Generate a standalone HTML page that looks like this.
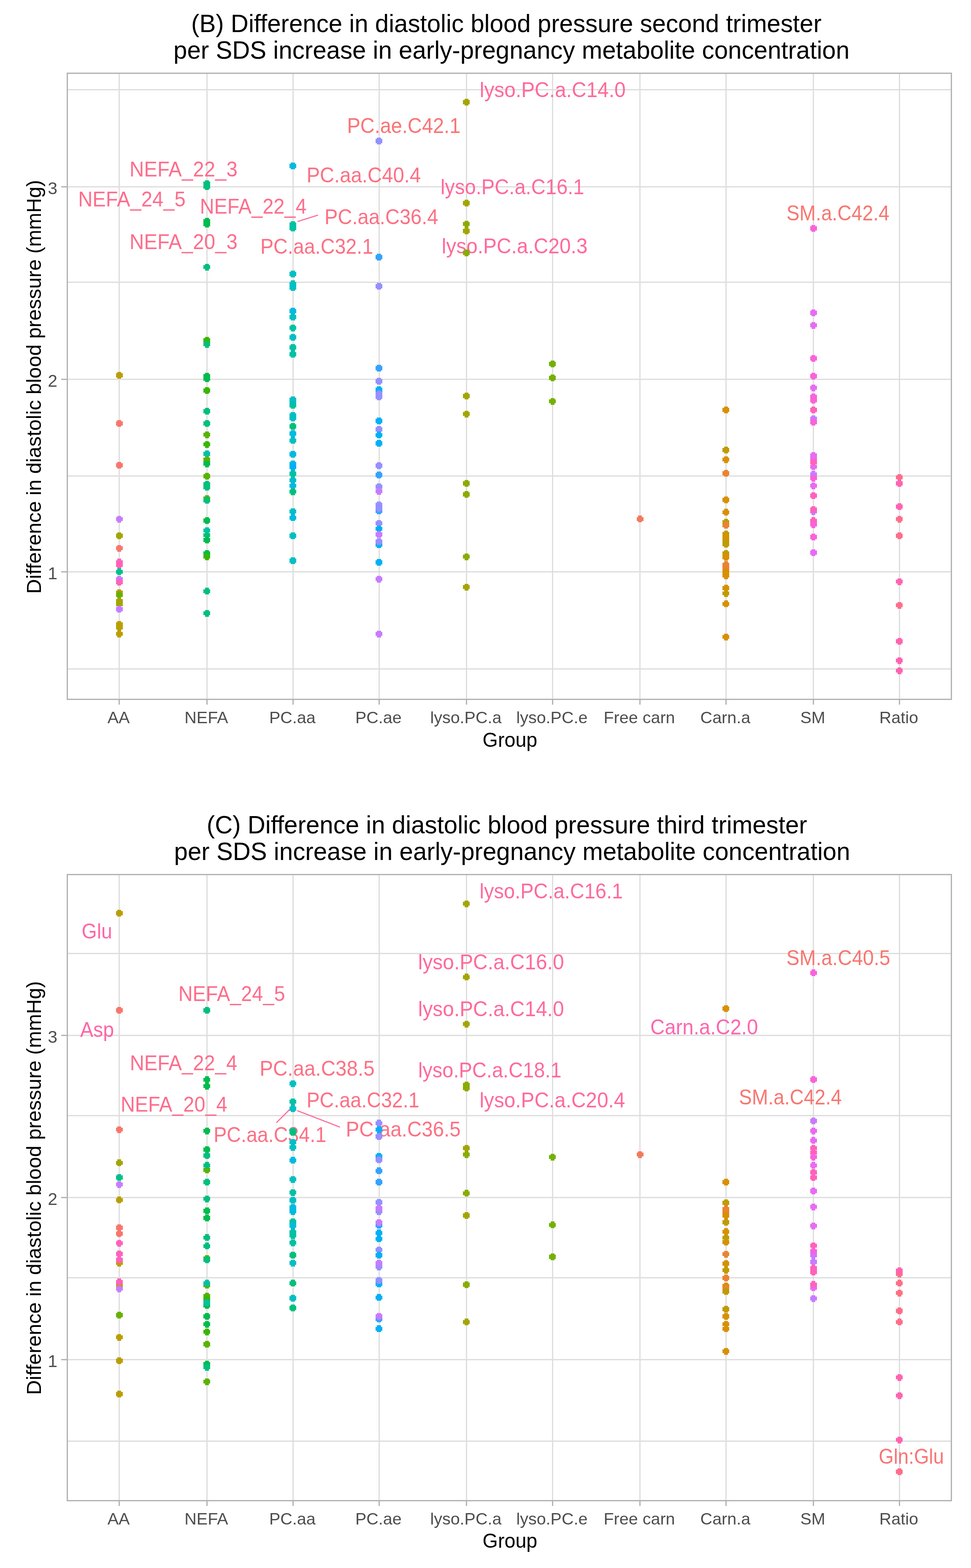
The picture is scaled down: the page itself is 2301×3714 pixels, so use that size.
<!DOCTYPE html>
<html><head><meta charset="utf-8"><title>Difference in diastolic blood pressure</title>
<style>html,body{margin:0;padding:0;background:#fff;}svg{display:block;}.t{font-family:"Liberation Sans",Arial,sans-serif;}</style></head>
<body><svg width="2301" height="3714" viewBox="0 0 2301 3714">
<rect width="2301" height="3714" fill="#fff"/>
<g shape-rendering="crispEdges">
<line x1="161" x2="2253" y1="212.5" y2="212.5" stroke="#DEDEDE" stroke-width="3"/>
<line x1="161" x2="2253" y1="668.5" y2="668.5" stroke="#DEDEDE" stroke-width="3"/>
<line x1="161" x2="2253" y1="1127.5" y2="1127.5" stroke="#DEDEDE" stroke-width="3"/>
<line x1="161" x2="2253" y1="1584.5" y2="1584.5" stroke="#DEDEDE" stroke-width="3"/>
<line x1="161" x2="2253" y1="1354.5" y2="1354.5" stroke="#DEDEDE" stroke-width="3"/>
<line x1="161" x2="2253" y1="898.5" y2="898.5" stroke="#DEDEDE" stroke-width="3"/>
<line x1="161" x2="2253" y1="442.5" y2="442.5" stroke="#DEDEDE" stroke-width="3"/>
<line x1="282.6" x2="282.6" y1="175" y2="1655" stroke="#DEDEDE" stroke-width="3"/>
<line x1="490.4" x2="490.4" y1="175" y2="1655" stroke="#DEDEDE" stroke-width="3"/>
<line x1="694.3" x2="694.3" y1="175" y2="1655" stroke="#DEDEDE" stroke-width="3"/>
<line x1="898.3" x2="898.3" y1="175" y2="1655" stroke="#DEDEDE" stroke-width="3"/>
<line x1="1105.4" x2="1105.4" y1="175" y2="1655" stroke="#DEDEDE" stroke-width="3"/>
<line x1="1309.4" x2="1309.4" y1="175" y2="1655" stroke="#DEDEDE" stroke-width="3"/>
<line x1="1516.5" x2="1516.5" y1="175" y2="1655" stroke="#DEDEDE" stroke-width="3"/>
<line x1="1720.4" x2="1720.4" y1="175" y2="1655" stroke="#DEDEDE" stroke-width="3"/>
<line x1="1927.5" x2="1927.5" y1="175" y2="1655" stroke="#DEDEDE" stroke-width="3"/>
<line x1="2131.4" x2="2131.4" y1="175" y2="1655" stroke="#DEDEDE" stroke-width="3"/>
</g>
<line x1="705" y1="524.8" x2="753.6" y2="509.5" stroke="#FF6A98" stroke-width="2.6"/>
<g class="t">
<text x="1136.8" y="229.6" font-size="49.5" fill="#FF6A9A" textLength="345.8" lengthAdjust="spacingAndGlyphs">lyso.PC.a.C14.0</text>
<text x="822.4" y="314.9" font-size="49.5" fill="#FA7475" textLength="268.9" lengthAdjust="spacingAndGlyphs">PC.ae.C42.1</text>
<text x="307.1" y="417.5" font-size="49.5" fill="#FE6D8C" textLength="255.7" lengthAdjust="spacingAndGlyphs">NEFA_22_3</text>
<text x="726.4" y="432.0" font-size="49.5" fill="#FD7083" textLength="270.8" lengthAdjust="spacingAndGlyphs">PC.aa.C40.4</text>
<text x="1043.9" y="459.8" font-size="49.5" fill="#FF6A9A" textLength="340.6" lengthAdjust="spacingAndGlyphs">lyso.PC.a.C16.1</text>
<text x="185.2" y="489.0" font-size="49.5" fill="#FE6D8C" textLength="254.6" lengthAdjust="spacingAndGlyphs">NEFA_24_5</text>
<text x="473.7" y="506.0" font-size="49.5" fill="#FE6D8C" textLength="252.8" lengthAdjust="spacingAndGlyphs">NEFA_22_4</text>
<text x="769.0" y="530.8" font-size="49.5" fill="#FD7083" textLength="269.5" lengthAdjust="spacingAndGlyphs">PC.aa.C36.4</text>
<text x="1863.8" y="522.1" font-size="49.5" fill="#F87670" textLength="243.9" lengthAdjust="spacingAndGlyphs">SM.a.C42.4</text>
<text x="307.1" y="590.2" font-size="49.5" fill="#FE6D8C" textLength="255.7" lengthAdjust="spacingAndGlyphs">NEFA_20_3</text>
<text x="616.9" y="600.8" font-size="49.5" fill="#FD7083" textLength="267.4" lengthAdjust="spacingAndGlyphs">PC.aa.C32.1</text>
<text x="1046.7" y="599.8" font-size="49.5" fill="#FF6A9A" textLength="345.8" lengthAdjust="spacingAndGlyphs">lyso.PC.a.C20.3</text>
</g>
<g shape-rendering="crispEdges">
<path transform="translate(282.6,888.7)" d="M-4.8-8H4.8V-4.8H8V4.8H4.8V8H-4.8V4.8H-8V-4.8H-4.8Z" fill="#BA9E00"/>
<path transform="translate(282.6,1003)" d="M-4.8-8H4.8V-4.8H8V4.8H4.8V8H-4.8V4.8H-8V-4.8H-4.8Z" fill="#F8766D"/>
<path transform="translate(282.6,1102)" d="M-4.8-8H4.8V-4.8H8V4.8H4.8V8H-4.8V4.8H-8V-4.8H-4.8Z" fill="#F8766D"/>
<path transform="translate(282.6,1229.7)" d="M-4.8-8H4.8V-4.8H8V4.8H4.8V8H-4.8V4.8H-8V-4.8H-4.8Z" fill="#C77CFF"/>
<path transform="translate(282.6,1269)" d="M-4.8-8H4.8V-4.8H8V4.8H4.8V8H-4.8V4.8H-8V-4.8H-4.8Z" fill="#A3A500"/>
<path transform="translate(282.6,1298.6)" d="M-4.8-8H4.8V-4.8H8V4.8H4.8V8H-4.8V4.8H-8V-4.8H-4.8Z" fill="#F8766D"/>
<path transform="translate(282.6,1331.4)" d="M-4.8-8H4.8V-4.8H8V4.8H4.8V8H-4.8V4.8H-8V-4.8H-4.8Z" fill="#FF62BC"/>
<path transform="translate(282.6,1338)" d="M-4.8-8H4.8V-4.8H8V4.8H4.8V8H-4.8V4.8H-8V-4.8H-4.8Z" fill="#FF62BC"/>
<path transform="translate(282.6,1354.4)" d="M-4.8-8H4.8V-4.8H8V4.8H4.8V8H-4.8V4.8H-8V-4.8H-4.8Z" fill="#00C08B"/>
<path transform="translate(282.6,1371.7)" d="M-4.8-8H4.8V-4.8H8V4.8H4.8V8H-4.8V4.8H-8V-4.8H-4.8Z" fill="#C77CFF"/>
<path transform="translate(282.6,1379.2)" d="M-4.8-8H4.8V-4.8H8V4.8H4.8V8H-4.8V4.8H-8V-4.8H-4.8Z" fill="#FF62BC"/>
<path transform="translate(282.6,1403.6)" d="M-4.8-8H4.8V-4.8H8V4.8H4.8V8H-4.8V4.8H-8V-4.8H-4.8Z" fill="#BA9E00"/>
<path transform="translate(282.6,1409.3)" d="M-4.8-8H4.8V-4.8H8V4.8H4.8V8H-4.8V4.8H-8V-4.8H-4.8Z" fill="#68B100"/>
<path transform="translate(282.6,1424)" d="M-4.8-8H4.8V-4.8H8V4.8H4.8V8H-4.8V4.8H-8V-4.8H-4.8Z" fill="#A3A500"/>
<path transform="translate(282.6,1431)" d="M-4.8-8H4.8V-4.8H8V4.8H4.8V8H-4.8V4.8H-8V-4.8H-4.8Z" fill="#A3A500"/>
<path transform="translate(282.6,1442.8)" d="M-4.8-8H4.8V-4.8H8V4.8H4.8V8H-4.8V4.8H-8V-4.8H-4.8Z" fill="#C77CFF"/>
<path transform="translate(282.6,1478.7)" d="M-4.8-8H4.8V-4.8H8V4.8H4.8V8H-4.8V4.8H-8V-4.8H-4.8Z" fill="#BA9E00"/>
<path transform="translate(282.6,1486)" d="M-4.8-8H4.8V-4.8H8V4.8H4.8V8H-4.8V4.8H-8V-4.8H-4.8Z" fill="#BA9E00"/>
<path transform="translate(282.6,1501.7)" d="M-4.8-8H4.8V-4.8H8V4.8H4.8V8H-4.8V4.8H-8V-4.8H-4.8Z" fill="#BA9E00"/>
<path transform="translate(490.4,434.5)" d="M-4.8-8H4.8V-4.8H8V4.8H4.8V8H-4.8V4.8H-8V-4.8H-4.8Z" fill="#00BF7D"/>
<path transform="translate(490.4,442.2)" d="M-4.8-8H4.8V-4.8H8V4.8H4.8V8H-4.8V4.8H-8V-4.8H-4.8Z" fill="#00BF7D"/>
<path transform="translate(490.4,524)" d="M-4.8-8H4.8V-4.8H8V4.8H4.8V8H-4.8V4.8H-8V-4.8H-4.8Z" fill="#00BB4E"/>
<path transform="translate(490.4,530.7)" d="M-4.8-8H4.8V-4.8H8V4.8H4.8V8H-4.8V4.8H-8V-4.8H-4.8Z" fill="#00BB4E"/>
<path transform="translate(490.4,632.6)" d="M-4.8-8H4.8V-4.8H8V4.8H4.8V8H-4.8V4.8H-8V-4.8H-4.8Z" fill="#00BF7D"/>
<path transform="translate(490.4,805.8)" d="M-4.8-8H4.8V-4.8H8V4.8H4.8V8H-4.8V4.8H-8V-4.8H-4.8Z" fill="#39B600"/>
<path transform="translate(490.4,815.5)" d="M-4.8-8H4.8V-4.8H8V4.8H4.8V8H-4.8V4.8H-8V-4.8H-4.8Z" fill="#00BF7D"/>
<path transform="translate(490.4,890.6)" d="M-4.8-8H4.8V-4.8H8V4.8H4.8V8H-4.8V4.8H-8V-4.8H-4.8Z" fill="#00BB4E"/>
<path transform="translate(490.4,897.3)" d="M-4.8-8H4.8V-4.8H8V4.8H4.8V8H-4.8V4.8H-8V-4.8H-4.8Z" fill="#00BB4E"/>
<path transform="translate(490.4,924.8)" d="M-4.8-8H4.8V-4.8H8V4.8H4.8V8H-4.8V4.8H-8V-4.8H-4.8Z" fill="#39B600"/>
<path transform="translate(490.4,973.8)" d="M-4.8-8H4.8V-4.8H8V4.8H4.8V8H-4.8V4.8H-8V-4.8H-4.8Z" fill="#00BF7D"/>
<path transform="translate(490.4,1003.3)" d="M-4.8-8H4.8V-4.8H8V4.8H4.8V8H-4.8V4.8H-8V-4.8H-4.8Z" fill="#00BF7D"/>
<path transform="translate(490.4,1029.7)" d="M-4.8-8H4.8V-4.8H8V4.8H4.8V8H-4.8V4.8H-8V-4.8H-4.8Z" fill="#5AB300"/>
<path transform="translate(490.4,1052.6)" d="M-4.8-8H4.8V-4.8H8V4.8H4.8V8H-4.8V4.8H-8V-4.8H-4.8Z" fill="#39B600"/>
<path transform="translate(490.4,1075.2)" d="M-4.8-8H4.8V-4.8H8V4.8H4.8V8H-4.8V4.8H-8V-4.8H-4.8Z" fill="#00C1A3"/>
<path transform="translate(490.4,1089.2)" d="M-4.8-8H4.8V-4.8H8V4.8H4.8V8H-4.8V4.8H-8V-4.8H-4.8Z" fill="#5AB300"/>
<path transform="translate(490.4,1098.5)" d="M-4.8-8H4.8V-4.8H8V4.8H4.8V8H-4.8V4.8H-8V-4.8H-4.8Z" fill="#00BB4E"/>
<path transform="translate(490.4,1128)" d="M-4.8-8H4.8V-4.8H8V4.8H4.8V8H-4.8V4.8H-8V-4.8H-4.8Z" fill="#5AB300"/>
<path transform="translate(490.4,1146.6)" d="M-4.8-8H4.8V-4.8H8V4.8H4.8V8H-4.8V4.8H-8V-4.8H-4.8Z" fill="#00BF7D"/>
<path transform="translate(490.4,1154.3)" d="M-4.8-8H4.8V-4.8H8V4.8H4.8V8H-4.8V4.8H-8V-4.8H-4.8Z" fill="#00BF7D"/>
<path transform="translate(490.4,1180.7)" d="M-4.8-8H4.8V-4.8H8V4.8H4.8V8H-4.8V4.8H-8V-4.8H-4.8Z" fill="#5AB300"/>
<path transform="translate(490.4,1185.4)" d="M-4.8-8H4.8V-4.8H8V4.8H4.8V8H-4.8V4.8H-8V-4.8H-4.8Z" fill="#00BF7D"/>
<path transform="translate(490.4,1232.8)" d="M-4.8-8H4.8V-4.8H8V4.8H4.8V8H-4.8V4.8H-8V-4.8H-4.8Z" fill="#00BB4E"/>
<path transform="translate(490.4,1256.7)" d="M-4.8-8H4.8V-4.8H8V4.8H4.8V8H-4.8V4.8H-8V-4.8H-4.8Z" fill="#00C1A3"/>
<path transform="translate(490.4,1267.5)" d="M-4.8-8H4.8V-4.8H8V4.8H4.8V8H-4.8V4.8H-8V-4.8H-4.8Z" fill="#00BF7D"/>
<path transform="translate(490.4,1279)" d="M-4.8-8H4.8V-4.8H8V4.8H4.8V8H-4.8V4.8H-8V-4.8H-4.8Z" fill="#00BB4E"/>
<path transform="translate(490.4,1311)" d="M-4.8-8H4.8V-4.8H8V4.8H4.8V8H-4.8V4.8H-8V-4.8H-4.8Z" fill="#00BB4E"/>
<path transform="translate(490.4,1318.7)" d="M-4.8-8H4.8V-4.8H8V4.8H4.8V8H-4.8V4.8H-8V-4.8H-4.8Z" fill="#39B600"/>
<path transform="translate(490.4,1400.3)" d="M-4.8-8H4.8V-4.8H8V4.8H4.8V8H-4.8V4.8H-8V-4.8H-4.8Z" fill="#00BF7D"/>
<path transform="translate(490.4,1452.7)" d="M-4.8-8H4.8V-4.8H8V4.8H4.8V8H-4.8V4.8H-8V-4.8H-4.8Z" fill="#00BF7D"/>
<path transform="translate(694.3,393.2)" d="M-4.8-8H4.8V-4.8H8V4.8H4.8V8H-4.8V4.8H-8V-4.8H-4.8Z" fill="#00BAE0"/>
<path transform="translate(694.3,531.5)" d="M-4.8-8H4.8V-4.8H8V4.8H4.8V8H-4.8V4.8H-8V-4.8H-4.8Z" fill="#00C1A3"/>
<path transform="translate(694.3,540)" d="M-4.8-8H4.8V-4.8H8V4.8H4.8V8H-4.8V4.8H-8V-4.8H-4.8Z" fill="#00C1A3"/>
<path transform="translate(694.3,649.3)" d="M-4.8-8H4.8V-4.8H8V4.8H4.8V8H-4.8V4.8H-8V-4.8H-4.8Z" fill="#00BFC4"/>
<path transform="translate(694.3,672.4)" d="M-4.8-8H4.8V-4.8H8V4.8H4.8V8H-4.8V4.8H-8V-4.8H-4.8Z" fill="#00BFC4"/>
<path transform="translate(694.3,680.7)" d="M-4.8-8H4.8V-4.8H8V4.8H4.8V8H-4.8V4.8H-8V-4.8H-4.8Z" fill="#00BFC4"/>
<path transform="translate(694.3,737.2)" d="M-4.8-8H4.8V-4.8H8V4.8H4.8V8H-4.8V4.8H-8V-4.8H-4.8Z" fill="#00BAE0"/>
<path transform="translate(694.3,750.8)" d="M-4.8-8H4.8V-4.8H8V4.8H4.8V8H-4.8V4.8H-8V-4.8H-4.8Z" fill="#00BFC4"/>
<path transform="translate(694.3,776.5)" d="M-4.8-8H4.8V-4.8H8V4.8H4.8V8H-4.8V4.8H-8V-4.8H-4.8Z" fill="#00C1A3"/>
<path transform="translate(694.3,799.2)" d="M-4.8-8H4.8V-4.8H8V4.8H4.8V8H-4.8V4.8H-8V-4.8H-4.8Z" fill="#00BFC4"/>
<path transform="translate(694.3,822.9)" d="M-4.8-8H4.8V-4.8H8V4.8H4.8V8H-4.8V4.8H-8V-4.8H-4.8Z" fill="#00C1A3"/>
<path transform="translate(694.3,838.7)" d="M-4.8-8H4.8V-4.8H8V4.8H4.8V8H-4.8V4.8H-8V-4.8H-4.8Z" fill="#00C1A3"/>
<path transform="translate(694.3,947)" d="M-4.8-8H4.8V-4.8H8V4.8H4.8V8H-4.8V4.8H-8V-4.8H-4.8Z" fill="#00BFC4"/>
<path transform="translate(694.3,953)" d="M-4.8-8H4.8V-4.8H8V4.8H4.8V8H-4.8V4.8H-8V-4.8H-4.8Z" fill="#00BFC4"/>
<path transform="translate(694.3,960)" d="M-4.8-8H4.8V-4.8H8V4.8H4.8V8H-4.8V4.8H-8V-4.8H-4.8Z" fill="#00C1A3"/>
<path transform="translate(694.3,984)" d="M-4.8-8H4.8V-4.8H8V4.8H4.8V8H-4.8V4.8H-8V-4.8H-4.8Z" fill="#00BFC4"/>
<path transform="translate(694.3,990)" d="M-4.8-8H4.8V-4.8H8V4.8H4.8V8H-4.8V4.8H-8V-4.8H-4.8Z" fill="#00BFC4"/>
<path transform="translate(694.3,1010.1)" d="M-4.8-8H4.8V-4.8H8V4.8H4.8V8H-4.8V4.8H-8V-4.8H-4.8Z" fill="#00BF7D"/>
<path transform="translate(694.3,1027.2)" d="M-4.8-8H4.8V-4.8H8V4.8H4.8V8H-4.8V4.8H-8V-4.8H-4.8Z" fill="#00BAE0"/>
<path transform="translate(694.3,1043.3)" d="M-4.8-8H4.8V-4.8H8V4.8H4.8V8H-4.8V4.8H-8V-4.8H-4.8Z" fill="#00BFC4"/>
<path transform="translate(694.3,1075.9)" d="M-4.8-8H4.8V-4.8H8V4.8H4.8V8H-4.8V4.8H-8V-4.8H-4.8Z" fill="#00BAE0"/>
<path transform="translate(694.3,1098.5)" d="M-4.8-8H4.8V-4.8H8V4.8H4.8V8H-4.8V4.8H-8V-4.8H-4.8Z" fill="#00BAE0"/>
<path transform="translate(694.3,1106.3)" d="M-4.8-8H4.8V-4.8H8V4.8H4.8V8H-4.8V4.8H-8V-4.8H-4.8Z" fill="#00B0F6"/>
<path transform="translate(694.3,1121.8)" d="M-4.8-8H4.8V-4.8H8V4.8H4.8V8H-4.8V4.8H-8V-4.8H-4.8Z" fill="#00C1A3"/>
<path transform="translate(694.3,1137.3)" d="M-4.8-8H4.8V-4.8H8V4.8H4.8V8H-4.8V4.8H-8V-4.8H-4.8Z" fill="#00BFC4"/>
<path transform="translate(694.3,1150.6)" d="M-4.8-8H4.8V-4.8H8V4.8H4.8V8H-4.8V4.8H-8V-4.8H-4.8Z" fill="#00BAE0"/>
<path transform="translate(694.3,1164.6)" d="M-4.8-8H4.8V-4.8H8V4.8H4.8V8H-4.8V4.8H-8V-4.8H-4.8Z" fill="#00BF7D"/>
<path transform="translate(694.3,1211.7)" d="M-4.8-8H4.8V-4.8H8V4.8H4.8V8H-4.8V4.8H-8V-4.8H-4.8Z" fill="#00BFC4"/>
<path transform="translate(694.3,1226.3)" d="M-4.8-8H4.8V-4.8H8V4.8H4.8V8H-4.8V4.8H-8V-4.8H-4.8Z" fill="#00BAE0"/>
<path transform="translate(694.3,1269.1)" d="M-4.8-8H4.8V-4.8H8V4.8H4.8V8H-4.8V4.8H-8V-4.8H-4.8Z" fill="#00BFC4"/>
<path transform="translate(694.3,1328)" d="M-4.8-8H4.8V-4.8H8V4.8H4.8V8H-4.8V4.8H-8V-4.8H-4.8Z" fill="#00BFC4"/>
<path transform="translate(898.3,334.1)" d="M-4.8-8H4.8V-4.8H8V4.8H4.8V8H-4.8V4.8H-8V-4.8H-4.8Z" fill="#9590FF"/>
<path transform="translate(898.3,609.3)" d="M-4.8-8H4.8V-4.8H8V4.8H4.8V8H-4.8V4.8H-8V-4.8H-4.8Z" fill="#35A2FF"/>
<path transform="translate(898.3,678)" d="M-4.8-8H4.8V-4.8H8V4.8H4.8V8H-4.8V4.8H-8V-4.8H-4.8Z" fill="#9590FF"/>
<path transform="translate(898.3,872)" d="M-4.8-8H4.8V-4.8H8V4.8H4.8V8H-4.8V4.8H-8V-4.8H-4.8Z" fill="#35A2FF"/>
<path transform="translate(898.3,903)" d="M-4.8-8H4.8V-4.8H8V4.8H4.8V8H-4.8V4.8H-8V-4.8H-4.8Z" fill="#9590FF"/>
<path transform="translate(898.3,923.3)" d="M-4.8-8H4.8V-4.8H8V4.8H4.8V8H-4.8V4.8H-8V-4.8H-4.8Z" fill="#00B0F6"/>
<path transform="translate(898.3,932.6)" d="M-4.8-8H4.8V-4.8H8V4.8H4.8V8H-4.8V4.8H-8V-4.8H-4.8Z" fill="#9590FF"/>
<path transform="translate(898.3,940.3)" d="M-4.8-8H4.8V-4.8H8V4.8H4.8V8H-4.8V4.8H-8V-4.8H-4.8Z" fill="#9590FF"/>
<path transform="translate(898.3,997.1)" d="M-4.8-8H4.8V-4.8H8V4.8H4.8V8H-4.8V4.8H-8V-4.8H-4.8Z" fill="#00B0F6"/>
<path transform="translate(898.3,1016.9)" d="M-4.8-8H4.8V-4.8H8V4.8H4.8V8H-4.8V4.8H-8V-4.8H-4.8Z" fill="#9590FF"/>
<path transform="translate(898.3,1030.3)" d="M-4.8-8H4.8V-4.8H8V4.8H4.8V8H-4.8V4.8H-8V-4.8H-4.8Z" fill="#00B0F6"/>
<path transform="translate(898.3,1049.8)" d="M-4.8-8H4.8V-4.8H8V4.8H4.8V8H-4.8V4.8H-8V-4.8H-4.8Z" fill="#00B0F6"/>
<path transform="translate(898.3,1103.2)" d="M-4.8-8H4.8V-4.8H8V4.8H4.8V8H-4.8V4.8H-8V-4.8H-4.8Z" fill="#9590FF"/>
<path transform="translate(898.3,1124.9)" d="M-4.8-8H4.8V-4.8H8V4.8H4.8V8H-4.8V4.8H-8V-4.8H-4.8Z" fill="#35A2FF"/>
<path transform="translate(898.3,1152.8)" d="M-4.8-8H4.8V-4.8H8V4.8H4.8V8H-4.8V4.8H-8V-4.8H-4.8Z" fill="#9590FF"/>
<path transform="translate(898.3,1163.6)" d="M-4.8-8H4.8V-4.8H8V4.8H4.8V8H-4.8V4.8H-8V-4.8H-4.8Z" fill="#C77CFF"/>
<path transform="translate(898.3,1196.2)" d="M-4.8-8H4.8V-4.8H8V4.8H4.8V8H-4.8V4.8H-8V-4.8H-4.8Z" fill="#9590FF"/>
<path transform="translate(898.3,1210.2)" d="M-4.8-8H4.8V-4.8H8V4.8H4.8V8H-4.8V4.8H-8V-4.8H-4.8Z" fill="#35A2FF"/>
<path transform="translate(898.3,1204)" d="M-4.8-8H4.8V-4.8H8V4.8H4.8V8H-4.8V4.8H-8V-4.8H-4.8Z" fill="#9590FF"/>
<path transform="translate(898.3,1239.6)" d="M-4.8-8H4.8V-4.8H8V4.8H4.8V8H-4.8V4.8H-8V-4.8H-4.8Z" fill="#9590FF"/>
<path transform="translate(898.3,1252.7)" d="M-4.8-8H4.8V-4.8H8V4.8H4.8V8H-4.8V4.8H-8V-4.8H-4.8Z" fill="#00B0F6"/>
<path transform="translate(898.3,1266)" d="M-4.8-8H4.8V-4.8H8V4.8H4.8V8H-4.8V4.8H-8V-4.8H-4.8Z" fill="#C77CFF"/>
<path transform="translate(898.3,1290.2)" d="M-4.8-8H4.8V-4.8H8V4.8H4.8V8H-4.8V4.8H-8V-4.8H-4.8Z" fill="#00B0F6"/>
<path transform="translate(898.3,1283)" d="M-4.8-8H4.8V-4.8H8V4.8H4.8V8H-4.8V4.8H-8V-4.8H-4.8Z" fill="#9590FF"/>
<path transform="translate(898.3,1331.8)" d="M-4.8-8H4.8V-4.8H8V4.8H4.8V8H-4.8V4.8H-8V-4.8H-4.8Z" fill="#00B0F6"/>
<path transform="translate(898.3,1371.5)" d="M-4.8-8H4.8V-4.8H8V4.8H4.8V8H-4.8V4.8H-8V-4.8H-4.8Z" fill="#C77CFF"/>
<path transform="translate(898.3,1501.7)" d="M-4.8-8H4.8V-4.8H8V4.8H4.8V8H-4.8V4.8H-8V-4.8H-4.8Z" fill="#C77CFF"/>
<path transform="translate(1105.4,241.7)" d="M-4.8-8H4.8V-4.8H8V4.8H4.8V8H-4.8V4.8H-8V-4.8H-4.8Z" fill="#A3A500"/>
<path transform="translate(1105.4,481.1)" d="M-4.8-8H4.8V-4.8H8V4.8H4.8V8H-4.8V4.8H-8V-4.8H-4.8Z" fill="#A3A500"/>
<path transform="translate(1105.4,530.5)" d="M-4.8-8H4.8V-4.8H8V4.8H4.8V8H-4.8V4.8H-8V-4.8H-4.8Z" fill="#8AAB00"/>
<path transform="translate(1105.4,546.8)" d="M-4.8-8H4.8V-4.8H8V4.8H4.8V8H-4.8V4.8H-8V-4.8H-4.8Z" fill="#A3A500"/>
<path transform="translate(1105.4,599.3)" d="M-4.8-8H4.8V-4.8H8V4.8H4.8V8H-4.8V4.8H-8V-4.8H-4.8Z" fill="#8AAB00"/>
<path transform="translate(1105.4,937.8)" d="M-4.8-8H4.8V-4.8H8V4.8H4.8V8H-4.8V4.8H-8V-4.8H-4.8Z" fill="#A3A500"/>
<path transform="translate(1105.4,980.6)" d="M-4.8-8H4.8V-4.8H8V4.8H4.8V8H-4.8V4.8H-8V-4.8H-4.8Z" fill="#A3A500"/>
<path transform="translate(1105.4,1145)" d="M-4.8-8H4.8V-4.8H8V4.8H4.8V8H-4.8V4.8H-8V-4.8H-4.8Z" fill="#8AAB00"/>
<path transform="translate(1105.4,1170.8)" d="M-4.8-8H4.8V-4.8H8V4.8H4.8V8H-4.8V4.8H-8V-4.8H-4.8Z" fill="#8AAB00"/>
<path transform="translate(1105.4,1318.7)" d="M-4.8-8H4.8V-4.8H8V4.8H4.8V8H-4.8V4.8H-8V-4.8H-4.8Z" fill="#8AAB00"/>
<path transform="translate(1105.4,1390.7)" d="M-4.8-8H4.8V-4.8H8V4.8H4.8V8H-4.8V4.8H-8V-4.8H-4.8Z" fill="#A3A500"/>
<path transform="translate(1309.4,862.3)" d="M-4.8-8H4.8V-4.8H8V4.8H4.8V8H-4.8V4.8H-8V-4.8H-4.8Z" fill="#74B000"/>
<path transform="translate(1309.4,895.3)" d="M-4.8-8H4.8V-4.8H8V4.8H4.8V8H-4.8V4.8H-8V-4.8H-4.8Z" fill="#74B000"/>
<path transform="translate(1309.4,950.6)" d="M-4.8-8H4.8V-4.8H8V4.8H4.8V8H-4.8V4.8H-8V-4.8H-4.8Z" fill="#74B000"/>
<path transform="translate(1516.5,1229.4)" d="M-4.8-8H4.8V-4.8H8V4.8H4.8V8H-4.8V4.8H-8V-4.8H-4.8Z" fill="#F27A5C"/>
<path transform="translate(1720.4,970.7)" d="M-4.8-8H4.8V-4.8H8V4.8H4.8V8H-4.8V4.8H-8V-4.8H-4.8Z" fill="#D89000"/>
<path transform="translate(1720.4,1066)" d="M-4.8-8H4.8V-4.8H8V4.8H4.8V8H-4.8V4.8H-8V-4.8H-4.8Z" fill="#C09B00"/>
<path transform="translate(1720.4,1088.6)" d="M-4.8-8H4.8V-4.8H8V4.8H4.8V8H-4.8V4.8H-8V-4.8H-4.8Z" fill="#D89000"/>
<path transform="translate(1720.4,1121.2)" d="M-4.8-8H4.8V-4.8H8V4.8H4.8V8H-4.8V4.8H-8V-4.8H-4.8Z" fill="#EA8331"/>
<path transform="translate(1720.4,1183.8)" d="M-4.8-8H4.8V-4.8H8V4.8H4.8V8H-4.8V4.8H-8V-4.8H-4.8Z" fill="#D89000"/>
<path transform="translate(1720.4,1213.3)" d="M-4.8-8H4.8V-4.8H8V4.8H4.8V8H-4.8V4.8H-8V-4.8H-4.8Z" fill="#D89000"/>
<path transform="translate(1720.4,1236.5)" d="M-4.8-8H4.8V-4.8H8V4.8H4.8V8H-4.8V4.8H-8V-4.8H-4.8Z" fill="#C09B00"/>
<path transform="translate(1720.4,1244.3)" d="M-4.8-8H4.8V-4.8H8V4.8H4.8V8H-4.8V4.8H-8V-4.8H-4.8Z" fill="#EA8331"/>
<path transform="translate(1720.4,1264.5)" d="M-4.8-8H4.8V-4.8H8V4.8H4.8V8H-4.8V4.8H-8V-4.8H-4.8Z" fill="#C09B00"/>
<path transform="translate(1720.4,1272.2)" d="M-4.8-8H4.8V-4.8H8V4.8H4.8V8H-4.8V4.8H-8V-4.8H-4.8Z" fill="#D89000"/>
<path transform="translate(1720.4,1281.5)" d="M-4.8-8H4.8V-4.8H8V4.8H4.8V8H-4.8V4.8H-8V-4.8H-4.8Z" fill="#C09B00"/>
<path transform="translate(1720.4,1289.3)" d="M-4.8-8H4.8V-4.8H8V4.8H4.8V8H-4.8V4.8H-8V-4.8H-4.8Z" fill="#C09B00"/>
<path transform="translate(1720.4,1311)" d="M-4.8-8H4.8V-4.8H8V4.8H4.8V8H-4.8V4.8H-8V-4.8H-4.8Z" fill="#C09B00"/>
<path transform="translate(1720.4,1320.3)" d="M-4.8-8H4.8V-4.8H8V4.8H4.8V8H-4.8V4.8H-8V-4.8H-4.8Z" fill="#D89000"/>
<path transform="translate(1720.4,1337.3)" d="M-4.8-8H4.8V-4.8H8V4.8H4.8V8H-4.8V4.8H-8V-4.8H-4.8Z" fill="#EA8331"/>
<path transform="translate(1720.4,1346.6)" d="M-4.8-8H4.8V-4.8H8V4.8H4.8V8H-4.8V4.8H-8V-4.8H-4.8Z" fill="#EA8331"/>
<path transform="translate(1720.4,1354.4)" d="M-4.8-8H4.8V-4.8H8V4.8H4.8V8H-4.8V4.8H-8V-4.8H-4.8Z" fill="#D89000"/>
<path transform="translate(1720.4,1363.7)" d="M-4.8-8H4.8V-4.8H8V4.8H4.8V8H-4.8V4.8H-8V-4.8H-4.8Z" fill="#D89000"/>
<path transform="translate(1720.4,1393.2)" d="M-4.8-8H4.8V-4.8H8V4.8H4.8V8H-4.8V4.8H-8V-4.8H-4.8Z" fill="#D89000"/>
<path transform="translate(1720.4,1405.6)" d="M-4.8-8H4.8V-4.8H8V4.8H4.8V8H-4.8V4.8H-8V-4.8H-4.8Z" fill="#C09B00"/>
<path transform="translate(1720.4,1430.4)" d="M-4.8-8H4.8V-4.8H8V4.8H4.8V8H-4.8V4.8H-8V-4.8H-4.8Z" fill="#D89000"/>
<path transform="translate(1720.4,1508.6)" d="M-4.8-8H4.8V-4.8H8V4.8H4.8V8H-4.8V4.8H-8V-4.8H-4.8Z" fill="#D89000"/>
<path transform="translate(1927.5,540.8)" d="M-4.8-8H4.8V-4.8H8V4.8H4.8V8H-4.8V4.8H-8V-4.8H-4.8Z" fill="#FA62DB"/>
<path transform="translate(1927.5,740.8)" d="M-4.8-8H4.8V-4.8H8V4.8H4.8V8H-4.8V4.8H-8V-4.8H-4.8Z" fill="#E76BF3"/>
<path transform="translate(1927.5,770.5)" d="M-4.8-8H4.8V-4.8H8V4.8H4.8V8H-4.8V4.8H-8V-4.8H-4.8Z" fill="#E76BF3"/>
<path transform="translate(1927.5,849.3)" d="M-4.8-8H4.8V-4.8H8V4.8H4.8V8H-4.8V4.8H-8V-4.8H-4.8Z" fill="#FA62DB"/>
<path transform="translate(1927.5,890.8)" d="M-4.8-8H4.8V-4.8H8V4.8H4.8V8H-4.8V4.8H-8V-4.8H-4.8Z" fill="#FA62DB"/>
<path transform="translate(1927.5,918.6)" d="M-4.8-8H4.8V-4.8H8V4.8H4.8V8H-4.8V4.8H-8V-4.8H-4.8Z" fill="#E76BF3"/>
<path transform="translate(1927.5,940.3)" d="M-4.8-8H4.8V-4.8H8V4.8H4.8V8H-4.8V4.8H-8V-4.8H-4.8Z" fill="#FA62DB"/>
<path transform="translate(1927.5,948)" d="M-4.8-8H4.8V-4.8H8V4.8H4.8V8H-4.8V4.8H-8V-4.8H-4.8Z" fill="#FA62DB"/>
<path transform="translate(1927.5,970.7)" d="M-4.8-8H4.8V-4.8H8V4.8H4.8V8H-4.8V4.8H-8V-4.8H-4.8Z" fill="#FF62BC"/>
<path transform="translate(1927.5,991.5)" d="M-4.8-8H4.8V-4.8H8V4.8H4.8V8H-4.8V4.8H-8V-4.8H-4.8Z" fill="#C77CFF"/>
<path transform="translate(1927.5,999.9)" d="M-4.8-8H4.8V-4.8H8V4.8H4.8V8H-4.8V4.8H-8V-4.8H-4.8Z" fill="#FA62DB"/>
<path transform="translate(1927.5,1078.7)" d="M-4.8-8H4.8V-4.8H8V4.8H4.8V8H-4.8V4.8H-8V-4.8H-4.8Z" fill="#E76BF3"/>
<path transform="translate(1927.5,1086)" d="M-4.8-8H4.8V-4.8H8V4.8H4.8V8H-4.8V4.8H-8V-4.8H-4.8Z" fill="#E76BF3"/>
<path transform="translate(1927.5,1105.3)" d="M-4.8-8H4.8V-4.8H8V4.8H4.8V8H-4.8V4.8H-8V-4.8H-4.8Z" fill="#E76BF3"/>
<path transform="translate(1927.5,1095)" d="M-4.8-8H4.8V-4.8H8V4.8H4.8V8H-4.8V4.8H-8V-4.8H-4.8Z" fill="#FF62BC"/>
<path transform="translate(1927.5,1123.3)" d="M-4.8-8H4.8V-4.8H8V4.8H4.8V8H-4.8V4.8H-8V-4.8H-4.8Z" fill="#C77CFF"/>
<path transform="translate(1927.5,1132.6)" d="M-4.8-8H4.8V-4.8H8V4.8H4.8V8H-4.8V4.8H-8V-4.8H-4.8Z" fill="#FA62DB"/>
<path transform="translate(1927.5,1150.6)" d="M-4.8-8H4.8V-4.8H8V4.8H4.8V8H-4.8V4.8H-8V-4.8H-4.8Z" fill="#E76BF3"/>
<path transform="translate(1927.5,1173.9)" d="M-4.8-8H4.8V-4.8H8V4.8H4.8V8H-4.8V4.8H-8V-4.8H-4.8Z" fill="#FF62BC"/>
<path transform="translate(1927.5,1211.7)" d="M-4.8-8H4.8V-4.8H8V4.8H4.8V8H-4.8V4.8H-8V-4.8H-4.8Z" fill="#C77CFF"/>
<path transform="translate(1927.5,1207.1)" d="M-4.8-8H4.8V-4.8H8V4.8H4.8V8H-4.8V4.8H-8V-4.8H-4.8Z" fill="#FF62BC"/>
<path transform="translate(1927.5,1233.4)" d="M-4.8-8H4.8V-4.8H8V4.8H4.8V8H-4.8V4.8H-8V-4.8H-4.8Z" fill="#FF62BC"/>
<path transform="translate(1927.5,1242.7)" d="M-4.8-8H4.8V-4.8H8V4.8H4.8V8H-4.8V4.8H-8V-4.8H-4.8Z" fill="#FA62DB"/>
<path transform="translate(1927.5,1272.2)" d="M-4.8-8H4.8V-4.8H8V4.8H4.8V8H-4.8V4.8H-8V-4.8H-4.8Z" fill="#FA62DB"/>
<path transform="translate(1927.5,1308.8)" d="M-4.8-8H4.8V-4.8H8V4.8H4.8V8H-4.8V4.8H-8V-4.8H-4.8Z" fill="#E76BF3"/>
<path transform="translate(2131.4,1130.5)" d="M-4.8-8H4.8V-4.8H8V4.8H4.8V8H-4.8V4.8H-8V-4.8H-4.8Z" fill="#FE6E8A"/>
<path transform="translate(2131.4,1145)" d="M-4.8-8H4.8V-4.8H8V4.8H4.8V8H-4.8V4.8H-8V-4.8H-4.8Z" fill="#FF64B0"/>
<path transform="translate(2131.4,1200.2)" d="M-4.8-8H4.8V-4.8H8V4.8H4.8V8H-4.8V4.8H-8V-4.8H-4.8Z" fill="#FF64B0"/>
<path transform="translate(2131.4,1229.7)" d="M-4.8-8H4.8V-4.8H8V4.8H4.8V8H-4.8V4.8H-8V-4.8H-4.8Z" fill="#FE6E8A"/>
<path transform="translate(2131.4,1269.1)" d="M-4.8-8H4.8V-4.8H8V4.8H4.8V8H-4.8V4.8H-8V-4.8H-4.8Z" fill="#FE6E8A"/>
<path transform="translate(2131.4,1377.7)" d="M-4.8-8H4.8V-4.8H8V4.8H4.8V8H-4.8V4.8H-8V-4.8H-4.8Z" fill="#FF64B0"/>
<path transform="translate(2131.4,1433.5)" d="M-4.8-8H4.8V-4.8H8V4.8H4.8V8H-4.8V4.8H-8V-4.8H-4.8Z" fill="#FE6E8A"/>
<path transform="translate(2131.4,1518.8)" d="M-4.8-8H4.8V-4.8H8V4.8H4.8V8H-4.8V4.8H-8V-4.8H-4.8Z" fill="#FF64B0"/>
<path transform="translate(2131.4,1564.7)" d="M-4.8-8H4.8V-4.8H8V4.8H4.8V8H-4.8V4.8H-8V-4.8H-4.8Z" fill="#FF64B0"/>
<path transform="translate(2131.4,1588.6)" d="M-4.8-8H4.8V-4.8H8V4.8H4.8V8H-4.8V4.8H-8V-4.8H-4.8Z" fill="#FF64B0"/>
</g>
<g shape-rendering="crispEdges">
<rect x="159.5" y="173.5" width="2095" height="1483" fill="none" stroke="#B3B3B3" stroke-width="3"/>
<line x1="145" x2="158" y1="1354.5" y2="1354.5" stroke="#B3B3B3" stroke-width="3"/>
<line x1="145" x2="158" y1="898.5" y2="898.5" stroke="#B3B3B3" stroke-width="3"/>
<line x1="145" x2="158" y1="442.5" y2="442.5" stroke="#B3B3B3" stroke-width="3"/>
<line x1="282.6" x2="282.6" y1="1658" y2="1669" stroke="#B3B3B3" stroke-width="3"/>
<line x1="490.4" x2="490.4" y1="1658" y2="1669" stroke="#B3B3B3" stroke-width="3"/>
<line x1="694.3" x2="694.3" y1="1658" y2="1669" stroke="#B3B3B3" stroke-width="3"/>
<line x1="898.3" x2="898.3" y1="1658" y2="1669" stroke="#B3B3B3" stroke-width="3"/>
<line x1="1105.4" x2="1105.4" y1="1658" y2="1669" stroke="#B3B3B3" stroke-width="3"/>
<line x1="1309.4" x2="1309.4" y1="1658" y2="1669" stroke="#B3B3B3" stroke-width="3"/>
<line x1="1516.5" x2="1516.5" y1="1658" y2="1669" stroke="#B3B3B3" stroke-width="3"/>
<line x1="1720.4" x2="1720.4" y1="1658" y2="1669" stroke="#B3B3B3" stroke-width="3"/>
<line x1="1927.5" x2="1927.5" y1="1658" y2="1669" stroke="#B3B3B3" stroke-width="3"/>
<line x1="2131.4" x2="2131.4" y1="1658" y2="1669" stroke="#B3B3B3" stroke-width="3"/>
</g>
<g class="t" font-size="39.5" fill="#4D4D4D">
<text x="136" y="1371.8" text-anchor="end" font-size="41">1</text>
<text x="136" y="915.8" text-anchor="end" font-size="41">2</text>
<text x="136" y="459.8" text-anchor="end" font-size="41">3</text>
<text x="281.1" y="1713.0" text-anchor="middle">AA</text>
<text x="488.9" y="1713.0" text-anchor="middle">NEFA</text>
<text x="692.8" y="1713.0" text-anchor="middle">PC.aa</text>
<text x="896.8" y="1713.0" text-anchor="middle">PC.ae</text>
<text x="1103.9" y="1713.0" text-anchor="middle">lyso.PC.a</text>
<text x="1307.9" y="1713.0" text-anchor="middle">lyso.PC.e</text>
<text x="1515.0" y="1713.0" text-anchor="middle">Free carn</text>
<text x="1718.9" y="1713.0" text-anchor="middle">Carn.a</text>
<text x="1926.0" y="1713.0" text-anchor="middle">SM</text>
<text x="2129.9" y="1713.0" text-anchor="middle">Ratio</text>
</g>
<g class="t" font-size="49" fill="#000">
<text x="1143.6" y="1768.5" font-size="49" fill="#000" textLength="129.7" lengthAdjust="spacingAndGlyphs">Group</text>
<g transform="translate(96.9,0) rotate(-90)">
<text x="-1406.4" y="0.0" font-size="49" fill="#000" textLength="980.3" lengthAdjust="spacingAndGlyphs">Difference in diastolic blood pressure (mmHg)</text>
</g>
</g>
<g class="t" fill="#000">
<text x="453.1" y="76.0" font-size="59.5" fill="#000" textLength="1493.7" lengthAdjust="spacingAndGlyphs">(B) Difference in diastolic blood pressure second trimester</text>
<text x="411.1" y="138.5" font-size="59.5" fill="#000" textLength="1602.0" lengthAdjust="spacingAndGlyphs">per SDS increase in early-pregnancy metabolite concentration</text>
</g>
<g shape-rendering="crispEdges">
<line x1="161" x2="2253" y1="2258.5" y2="2258.5" stroke="#DEDEDE" stroke-width="3"/>
<line x1="161" x2="2253" y1="2642.5" y2="2642.5" stroke="#DEDEDE" stroke-width="3"/>
<line x1="161" x2="2253" y1="3026.5" y2="3026.5" stroke="#DEDEDE" stroke-width="3"/>
<line x1="161" x2="2253" y1="3413.5" y2="3413.5" stroke="#DEDEDE" stroke-width="3"/>
<line x1="161" x2="2253" y1="3220.5" y2="3220.5" stroke="#DEDEDE" stroke-width="3"/>
<line x1="161" x2="2253" y1="2836.5" y2="2836.5" stroke="#DEDEDE" stroke-width="3"/>
<line x1="161" x2="2253" y1="2452.5" y2="2452.5" stroke="#DEDEDE" stroke-width="3"/>
<line x1="282.6" x2="282.6" y1="2072.7" y2="3552.7" stroke="#DEDEDE" stroke-width="3"/>
<line x1="490.4" x2="490.4" y1="2072.7" y2="3552.7" stroke="#DEDEDE" stroke-width="3"/>
<line x1="694.3" x2="694.3" y1="2072.7" y2="3552.7" stroke="#DEDEDE" stroke-width="3"/>
<line x1="898.3" x2="898.3" y1="2072.7" y2="3552.7" stroke="#DEDEDE" stroke-width="3"/>
<line x1="1105.4" x2="1105.4" y1="2072.7" y2="3552.7" stroke="#DEDEDE" stroke-width="3"/>
<line x1="1309.4" x2="1309.4" y1="2072.7" y2="3552.7" stroke="#DEDEDE" stroke-width="3"/>
<line x1="1516.5" x2="1516.5" y1="2072.7" y2="3552.7" stroke="#DEDEDE" stroke-width="3"/>
<line x1="1720.4" x2="1720.4" y1="2072.7" y2="3552.7" stroke="#DEDEDE" stroke-width="3"/>
<line x1="1927.5" x2="1927.5" y1="2072.7" y2="3552.7" stroke="#DEDEDE" stroke-width="3"/>
<line x1="2131.4" x2="2131.4" y1="2072.7" y2="3552.7" stroke="#DEDEDE" stroke-width="3"/>
</g>
<line x1="654.8" y1="2659.4" x2="688.5" y2="2626" stroke="#FF6A98" stroke-width="2.6"/>
<line x1="704.4" y1="2630.8" x2="805.6" y2="2669.7" stroke="#FF6A98" stroke-width="2.6"/>
<g class="t">
<text x="1136.6" y="2127.5" font-size="49.5" fill="#FF6A9A" textLength="339.5" lengthAdjust="spacingAndGlyphs">lyso.PC.a.C16.1</text>
<text x="193.6" y="2222.8" font-size="49.5" fill="#FF66A6" textLength="72.2" lengthAdjust="spacingAndGlyphs">Glu</text>
<text x="990.8" y="2295.6" font-size="49.5" fill="#FF6A9A" textLength="345.7" lengthAdjust="spacingAndGlyphs">lyso.PC.a.C16.0</text>
<text x="1863.5" y="2285.5" font-size="49.5" fill="#F87670" textLength="246.1" lengthAdjust="spacingAndGlyphs">SM.a.C40.5</text>
<text x="422.7" y="2370.8" font-size="49.5" fill="#FE6D8C" textLength="252.9" lengthAdjust="spacingAndGlyphs">NEFA_24_5</text>
<text x="990.8" y="2406.5" font-size="49.5" fill="#FF6A9A" textLength="345.7" lengthAdjust="spacingAndGlyphs">lyso.PC.a.C14.0</text>
<text x="190.0" y="2455.6" font-size="49.5" fill="#FF66A6" textLength="80.1" lengthAdjust="spacingAndGlyphs">Asp</text>
<text x="1541.1" y="2449.5" font-size="49.5" fill="#FF65AE" textLength="255.2" lengthAdjust="spacingAndGlyphs">Carn.a.C2.0</text>
<text x="307.7" y="2535.2" font-size="49.5" fill="#FE6D8C" textLength="254.7" lengthAdjust="spacingAndGlyphs">NEFA_22_4</text>
<text x="615.2" y="2547.8" font-size="49.5" fill="#FD7083" textLength="272.6" lengthAdjust="spacingAndGlyphs">PC.aa.C38.5</text>
<text x="990.9" y="2551.5" font-size="49.5" fill="#FF6A9A" textLength="339.7" lengthAdjust="spacingAndGlyphs">lyso.PC.a.C18.1</text>
<text x="285.9" y="2632.8" font-size="49.5" fill="#FE6D8C" textLength="252.7" lengthAdjust="spacingAndGlyphs">NEFA_20_4</text>
<text x="726.4" y="2622.7" font-size="49.5" fill="#FD7083" textLength="267.4" lengthAdjust="spacingAndGlyphs">PC.aa.C32.1</text>
<text x="1136.5" y="2622.5" font-size="49.5" fill="#FF6A9A" textLength="344.7" lengthAdjust="spacingAndGlyphs">lyso.PC.a.C20.4</text>
<text x="1750.9" y="2616.3" font-size="49.5" fill="#F87670" textLength="243.8" lengthAdjust="spacingAndGlyphs">SM.a.C42.4</text>
<text x="506.2" y="2705.0" font-size="49.5" fill="#FD7083" textLength="266.9" lengthAdjust="spacingAndGlyphs">PC.aa.C34.1</text>
<text x="819.6" y="2692.2" font-size="49.5" fill="#FD7083" textLength="272.1" lengthAdjust="spacingAndGlyphs">PC.aa.C36.5</text>
<text x="2082.2" y="3467.2" font-size="49.5" fill="#FA7475" textLength="154.7" lengthAdjust="spacingAndGlyphs">Gln:Glu</text>
</g>
<g shape-rendering="crispEdges">
<path transform="translate(282.6,2162.8)" d="M-4.8-8H4.8V-4.8H8V4.8H4.8V8H-4.8V4.8H-8V-4.8H-4.8Z" fill="#BA9E00"/>
<path transform="translate(282.6,2393.1)" d="M-4.8-8H4.8V-4.8H8V4.8H4.8V8H-4.8V4.8H-8V-4.8H-4.8Z" fill="#F8766D"/>
<path transform="translate(282.6,2675.5)" d="M-4.8-8H4.8V-4.8H8V4.8H4.8V8H-4.8V4.8H-8V-4.8H-4.8Z" fill="#F8766D"/>
<path transform="translate(282.6,2754.3)" d="M-4.8-8H4.8V-4.8H8V4.8H4.8V8H-4.8V4.8H-8V-4.8H-4.8Z" fill="#A3A500"/>
<path transform="translate(282.6,2789.2)" d="M-4.8-8H4.8V-4.8H8V4.8H4.8V8H-4.8V4.8H-8V-4.8H-4.8Z" fill="#00C08B"/>
<path transform="translate(282.6,2805.6)" d="M-4.8-8H4.8V-4.8H8V4.8H4.8V8H-4.8V4.8H-8V-4.8H-4.8Z" fill="#C77CFF"/>
<path transform="translate(282.6,2842.3)" d="M-4.8-8H4.8V-4.8H8V4.8H4.8V8H-4.8V4.8H-8V-4.8H-4.8Z" fill="#BA9E00"/>
<path transform="translate(282.6,2908.1)" d="M-4.8-8H4.8V-4.8H8V4.8H4.8V8H-4.8V4.8H-8V-4.8H-4.8Z" fill="#F8766D"/>
<path transform="translate(282.6,2922)" d="M-4.8-8H4.8V-4.8H8V4.8H4.8V8H-4.8V4.8H-8V-4.8H-4.8Z" fill="#F8766D"/>
<path transform="translate(282.6,2944.5)" d="M-4.8-8H4.8V-4.8H8V4.8H4.8V8H-4.8V4.8H-8V-4.8H-4.8Z" fill="#FF62BC"/>
<path transform="translate(282.6,2991.5)" d="M-4.8-8H4.8V-4.8H8V4.8H4.8V8H-4.8V4.8H-8V-4.8H-4.8Z" fill="#BA9E00"/>
<path transform="translate(282.6,2969.9)" d="M-4.8-8H4.8V-4.8H8V4.8H4.8V8H-4.8V4.8H-8V-4.8H-4.8Z" fill="#FF62BC"/>
<path transform="translate(282.6,2983.8)" d="M-4.8-8H4.8V-4.8H8V4.8H4.8V8H-4.8V4.8H-8V-4.8H-4.8Z" fill="#FF62BC"/>
<path transform="translate(282.6,3044)" d="M-4.8-8H4.8V-4.8H8V4.8H4.8V8H-4.8V4.8H-8V-4.8H-4.8Z" fill="#BA9E00"/>
<path transform="translate(282.6,3036.3)" d="M-4.8-8H4.8V-4.8H8V4.8H4.8V8H-4.8V4.8H-8V-4.8H-4.8Z" fill="#FF62BC"/>
<path transform="translate(282.6,3052.6)" d="M-4.8-8H4.8V-4.8H8V4.8H4.8V8H-4.8V4.8H-8V-4.8H-4.8Z" fill="#C77CFF"/>
<path transform="translate(282.6,3115)" d="M-4.8-8H4.8V-4.8H8V4.8H4.8V8H-4.8V4.8H-8V-4.8H-4.8Z" fill="#68B100"/>
<path transform="translate(282.6,3167.5)" d="M-4.8-8H4.8V-4.8H8V4.8H4.8V8H-4.8V4.8H-8V-4.8H-4.8Z" fill="#BA9E00"/>
<path transform="translate(282.6,3223.1)" d="M-4.8-8H4.8V-4.8H8V4.8H4.8V8H-4.8V4.8H-8V-4.8H-4.8Z" fill="#BA9E00"/>
<path transform="translate(282.6,3301.9)" d="M-4.8-8H4.8V-4.8H8V4.8H4.8V8H-4.8V4.8H-8V-4.8H-4.8Z" fill="#BA9E00"/>
<path transform="translate(490.4,2393.1)" d="M-4.8-8H4.8V-4.8H8V4.8H4.8V8H-4.8V4.8H-8V-4.8H-4.8Z" fill="#00BF7D"/>
<path transform="translate(490.4,2557.4)" d="M-4.8-8H4.8V-4.8H8V4.8H4.8V8H-4.8V4.8H-8V-4.8H-4.8Z" fill="#00BB4E"/>
<path transform="translate(490.4,2572.5)" d="M-4.8-8H4.8V-4.8H8V4.8H4.8V8H-4.8V4.8H-8V-4.8H-4.8Z" fill="#00BB4E"/>
<path transform="translate(490.4,2678.6)" d="M-4.8-8H4.8V-4.8H8V4.8H4.8V8H-4.8V4.8H-8V-4.8H-4.8Z" fill="#00BB4E"/>
<path transform="translate(490.4,2723.1)" d="M-4.8-8H4.8V-4.8H8V4.8H4.8V8H-4.8V4.8H-8V-4.8H-4.8Z" fill="#00BB4E"/>
<path transform="translate(490.4,2736.8)" d="M-4.8-8H4.8V-4.8H8V4.8H4.8V8H-4.8V4.8H-8V-4.8H-4.8Z" fill="#00BF7D"/>
<path transform="translate(490.4,2771)" d="M-4.8-8H4.8V-4.8H8V4.8H4.8V8H-4.8V4.8H-8V-4.8H-4.8Z" fill="#5AB300"/>
<path transform="translate(490.4,2760.4)" d="M-4.8-8H4.8V-4.8H8V4.8H4.8V8H-4.8V4.8H-8V-4.8H-4.8Z" fill="#00BF7D"/>
<path transform="translate(490.4,2799.8)" d="M-4.8-8H4.8V-4.8H8V4.8H4.8V8H-4.8V4.8H-8V-4.8H-4.8Z" fill="#00BF7D"/>
<path transform="translate(490.4,2839.5)" d="M-4.8-8H4.8V-4.8H8V4.8H4.8V8H-4.8V4.8H-8V-4.8H-4.8Z" fill="#00BF7D"/>
<path transform="translate(490.4,2867.9)" d="M-4.8-8H4.8V-4.8H8V4.8H4.8V8H-4.8V4.8H-8V-4.8H-4.8Z" fill="#00BB4E"/>
<path transform="translate(490.4,2884.9)" d="M-4.8-8H4.8V-4.8H8V4.8H4.8V8H-4.8V4.8H-8V-4.8H-4.8Z" fill="#00BB4E"/>
<path transform="translate(490.4,2931.3)" d="M-4.8-8H4.8V-4.8H8V4.8H4.8V8H-4.8V4.8H-8V-4.8H-4.8Z" fill="#00BF7D"/>
<path transform="translate(490.4,2951.3)" d="M-4.8-8H4.8V-4.8H8V4.8H4.8V8H-4.8V4.8H-8V-4.8H-4.8Z" fill="#00BF7D"/>
<path transform="translate(490.4,2980.7)" d="M-4.8-8H4.8V-4.8H8V4.8H4.8V8H-4.8V4.8H-8V-4.8H-4.8Z" fill="#5AB300"/>
<path transform="translate(490.4,2983.8)" d="M-4.8-8H4.8V-4.8H8V4.8H4.8V8H-4.8V4.8H-8V-4.8H-4.8Z" fill="#00BF7D"/>
<path transform="translate(490.4,3044)" d="M-4.8-8H4.8V-4.8H8V4.8H4.8V8H-4.8V4.8H-8V-4.8H-4.8Z" fill="#5AB300"/>
<path transform="translate(490.4,3039.3)" d="M-4.8-8H4.8V-4.8H8V4.8H4.8V8H-4.8V4.8H-8V-4.8H-4.8Z" fill="#00C1A3"/>
<path transform="translate(490.4,3070.2)" d="M-4.8-8H4.8V-4.8H8V4.8H4.8V8H-4.8V4.8H-8V-4.8H-4.8Z" fill="#5AB300"/>
<path transform="translate(490.4,3076.4)" d="M-4.8-8H4.8V-4.8H8V4.8H4.8V8H-4.8V4.8H-8V-4.8H-4.8Z" fill="#39B600"/>
<path transform="translate(490.4,3091.8)" d="M-4.8-8H4.8V-4.8H8V4.8H4.8V8H-4.8V4.8H-8V-4.8H-4.8Z" fill="#00BB4E"/>
<path transform="translate(490.4,3085.7)" d="M-4.8-8H4.8V-4.8H8V4.8H4.8V8H-4.8V4.8H-8V-4.8H-4.8Z" fill="#00C1A3"/>
<path transform="translate(490.4,3118.1)" d="M-4.8-8H4.8V-4.8H8V4.8H4.8V8H-4.8V4.8H-8V-4.8H-4.8Z" fill="#00BB4E"/>
<path transform="translate(490.4,3136.6)" d="M-4.8-8H4.8V-4.8H8V4.8H4.8V8H-4.8V4.8H-8V-4.8H-4.8Z" fill="#00BB4E"/>
<path transform="translate(490.4,3154.5)" d="M-4.8-8H4.8V-4.8H8V4.8H4.8V8H-4.8V4.8H-8V-4.8H-4.8Z" fill="#39B600"/>
<path transform="translate(490.4,3183.9)" d="M-4.8-8H4.8V-4.8H8V4.8H4.8V8H-4.8V4.8H-8V-4.8H-4.8Z" fill="#5AB300"/>
<path transform="translate(490.4,3230.8)" d="M-4.8-8H4.8V-4.8H8V4.8H4.8V8H-4.8V4.8H-8V-4.8H-4.8Z" fill="#00BB4E"/>
<path transform="translate(490.4,3238.5)" d="M-4.8-8H4.8V-4.8H8V4.8H4.8V8H-4.8V4.8H-8V-4.8H-4.8Z" fill="#00BF7D"/>
<path transform="translate(490.4,3272.5)" d="M-4.8-8H4.8V-4.8H8V4.8H4.8V8H-4.8V4.8H-8V-4.8H-4.8Z" fill="#5AB300"/>
<path transform="translate(694.3,2566.5)" d="M-4.8-8H4.8V-4.8H8V4.8H4.8V8H-4.8V4.8H-8V-4.8H-4.8Z" fill="#00BFC4"/>
<path transform="translate(694.3,2609.5)" d="M-4.8-8H4.8V-4.8H8V4.8H4.8V8H-4.8V4.8H-8V-4.8H-4.8Z" fill="#00C1A3"/>
<path transform="translate(694.3,2626.2)" d="M-4.8-8H4.8V-4.8H8V4.8H4.8V8H-4.8V4.8H-8V-4.8H-4.8Z" fill="#00BFC4"/>
<path transform="translate(694.3,2678.6)" d="M-4.8-8H4.8V-4.8H8V4.8H4.8V8H-4.8V4.8H-8V-4.8H-4.8Z" fill="#00C1A3"/>
<path transform="translate(694.3,2682)" d="M-4.8-8H4.8V-4.8H8V4.8H4.8V8H-4.8V4.8H-8V-4.8H-4.8Z" fill="#00BF7D"/>
<path transform="translate(694.3,2705.5)" d="M-4.8-8H4.8V-4.8H8V4.8H4.8V8H-4.8V4.8H-8V-4.8H-4.8Z" fill="#00BFC4"/>
<path transform="translate(694.3,2717.5)" d="M-4.8-8H4.8V-4.8H8V4.8H4.8V8H-4.8V4.8H-8V-4.8H-4.8Z" fill="#00BFC4"/>
<path transform="translate(694.3,2748.3)" d="M-4.8-8H4.8V-4.8H8V4.8H4.8V8H-4.8V4.8H-8V-4.8H-4.8Z" fill="#00BAE0"/>
<path transform="translate(694.3,2793.7)" d="M-4.8-8H4.8V-4.8H8V4.8H4.8V8H-4.8V4.8H-8V-4.8H-4.8Z" fill="#00BFC4"/>
<path transform="translate(694.3,2824.7)" d="M-4.8-8H4.8V-4.8H8V4.8H4.8V8H-4.8V4.8H-8V-4.8H-4.8Z" fill="#00C1A3"/>
<path transform="translate(694.3,2843.2)" d="M-4.8-8H4.8V-4.8H8V4.8H4.8V8H-4.8V4.8H-8V-4.8H-4.8Z" fill="#00BFC4"/>
<path transform="translate(694.3,2860.2)" d="M-4.8-8H4.8V-4.8H8V4.8H4.8V8H-4.8V4.8H-8V-4.8H-4.8Z" fill="#00BAE0"/>
<path transform="translate(694.3,2869.5)" d="M-4.8-8H4.8V-4.8H8V4.8H4.8V8H-4.8V4.8H-8V-4.8H-4.8Z" fill="#00BAE0"/>
<path transform="translate(694.3,2894.2)" d="M-4.8-8H4.8V-4.8H8V4.8H4.8V8H-4.8V4.8H-8V-4.8H-4.8Z" fill="#00C1A3"/>
<path transform="translate(694.3,2903.5)" d="M-4.8-8H4.8V-4.8H8V4.8H4.8V8H-4.8V4.8H-8V-4.8H-4.8Z" fill="#00BAE0"/>
<path transform="translate(694.3,2918.9)" d="M-4.8-8H4.8V-4.8H8V4.8H4.8V8H-4.8V4.8H-8V-4.8H-4.8Z" fill="#00C1A3"/>
<path transform="translate(694.3,2926.6)" d="M-4.8-8H4.8V-4.8H8V4.8H4.8V8H-4.8V4.8H-8V-4.8H-4.8Z" fill="#00C1A3"/>
<path transform="translate(694.3,2943.6)" d="M-4.8-8H4.8V-4.8H8V4.8H4.8V8H-4.8V4.8H-8V-4.8H-4.8Z" fill="#00C1A3"/>
<path transform="translate(694.3,2972.9)" d="M-4.8-8H4.8V-4.8H8V4.8H4.8V8H-4.8V4.8H-8V-4.8H-4.8Z" fill="#00BF7D"/>
<path transform="translate(694.3,2991.5)" d="M-4.8-8H4.8V-4.8H8V4.8H4.8V8H-4.8V4.8H-8V-4.8H-4.8Z" fill="#00BFC4"/>
<path transform="translate(694.3,3039.3)" d="M-4.8-8H4.8V-4.8H8V4.8H4.8V8H-4.8V4.8H-8V-4.8H-4.8Z" fill="#00BF7D"/>
<path transform="translate(694.3,3074.9)" d="M-4.8-8H4.8V-4.8H8V4.8H4.8V8H-4.8V4.8H-8V-4.8H-4.8Z" fill="#00BFC4"/>
<path transform="translate(694.3,3098)" d="M-4.8-8H4.8V-4.8H8V4.8H4.8V8H-4.8V4.8H-8V-4.8H-4.8Z" fill="#00BF7D"/>
<path transform="translate(898.3,2660.4)" d="M-4.8-8H4.8V-4.8H8V4.8H4.8V8H-4.8V4.8H-8V-4.8H-4.8Z" fill="#9590FF"/>
<path transform="translate(898.3,2675.5)" d="M-4.8-8H4.8V-4.8H8V4.8H4.8V8H-4.8V4.8H-8V-4.8H-4.8Z" fill="#00B0F6"/>
<path transform="translate(898.3,2692.2)" d="M-4.8-8H4.8V-4.8H8V4.8H4.8V8H-4.8V4.8H-8V-4.8H-4.8Z" fill="#9590FF"/>
<path transform="translate(898.3,2739.2)" d="M-4.8-8H4.8V-4.8H8V4.8H4.8V8H-4.8V4.8H-8V-4.8H-4.8Z" fill="#00B0F6"/>
<path transform="translate(898.3,2746.8)" d="M-4.8-8H4.8V-4.8H8V4.8H4.8V8H-4.8V4.8H-8V-4.8H-4.8Z" fill="#9590FF"/>
<path transform="translate(898.3,2773.4)" d="M-4.8-8H4.8V-4.8H8V4.8H4.8V8H-4.8V4.8H-8V-4.8H-4.8Z" fill="#35A2FF"/>
<path transform="translate(898.3,2799.8)" d="M-4.8-8H4.8V-4.8H8V4.8H4.8V8H-4.8V4.8H-8V-4.8H-4.8Z" fill="#35A2FF"/>
<path transform="translate(898.3,2847.9)" d="M-4.8-8H4.8V-4.8H8V4.8H4.8V8H-4.8V4.8H-8V-4.8H-4.8Z" fill="#9590FF"/>
<path transform="translate(898.3,2869.5)" d="M-4.8-8H4.8V-4.8H8V4.8H4.8V8H-4.8V4.8H-8V-4.8H-4.8Z" fill="#9590FF"/>
<path transform="translate(898.3,2861.8)" d="M-4.8-8H4.8V-4.8H8V4.8H4.8V8H-4.8V4.8H-8V-4.8H-4.8Z" fill="#C77CFF"/>
<path transform="translate(898.3,2901.9)" d="M-4.8-8H4.8V-4.8H8V4.8H4.8V8H-4.8V4.8H-8V-4.8H-4.8Z" fill="#35A2FF"/>
<path transform="translate(898.3,2895.7)" d="M-4.8-8H4.8V-4.8H8V4.8H4.8V8H-4.8V4.8H-8V-4.8H-4.8Z" fill="#C77CFF"/>
<path transform="translate(898.3,2920.4)" d="M-4.8-8H4.8V-4.8H8V4.8H4.8V8H-4.8V4.8H-8V-4.8H-4.8Z" fill="#00B0F6"/>
<path transform="translate(898.3,2934.3)" d="M-4.8-8H4.8V-4.8H8V4.8H4.8V8H-4.8V4.8H-8V-4.8H-4.8Z" fill="#00B0F6"/>
<path transform="translate(898.3,2960.6)" d="M-4.8-8H4.8V-4.8H8V4.8H4.8V8H-4.8V4.8H-8V-4.8H-4.8Z" fill="#9590FF"/>
<path transform="translate(898.3,2972.9)" d="M-4.8-8H4.8V-4.8H8V4.8H4.8V8H-4.8V4.8H-8V-4.8H-4.8Z" fill="#00B0F6"/>
<path transform="translate(898.3,3000.7)" d="M-4.8-8H4.8V-4.8H8V4.8H4.8V8H-4.8V4.8H-8V-4.8H-4.8Z" fill="#9590FF"/>
<path transform="translate(898.3,2991.5)" d="M-4.8-8H4.8V-4.8H8V4.8H4.8V8H-4.8V4.8H-8V-4.8H-4.8Z" fill="#C77CFF"/>
<path transform="translate(898.3,3040.9)" d="M-4.8-8H4.8V-4.8H8V4.8H4.8V8H-4.8V4.8H-8V-4.8H-4.8Z" fill="#00B0F6"/>
<path transform="translate(898.3,3033.2)" d="M-4.8-8H4.8V-4.8H8V4.8H4.8V8H-4.8V4.8H-8V-4.8H-4.8Z" fill="#9590FF"/>
<path transform="translate(898.3,3073.3)" d="M-4.8-8H4.8V-4.8H8V4.8H4.8V8H-4.8V4.8H-8V-4.8H-4.8Z" fill="#00B0F6"/>
<path transform="translate(898.3,3124.3)" d="M-4.8-8H4.8V-4.8H8V4.8H4.8V8H-4.8V4.8H-8V-4.8H-4.8Z" fill="#35A2FF"/>
<path transform="translate(898.3,3118.1)" d="M-4.8-8H4.8V-4.8H8V4.8H4.8V8H-4.8V4.8H-8V-4.8H-4.8Z" fill="#C77CFF"/>
<path transform="translate(898.3,3147.4)" d="M-4.8-8H4.8V-4.8H8V4.8H4.8V8H-4.8V4.8H-8V-4.8H-4.8Z" fill="#00B0F6"/>
<path transform="translate(1105.4,2140.7)" d="M-4.8-8H4.8V-4.8H8V4.8H4.8V8H-4.8V4.8H-8V-4.8H-4.8Z" fill="#A3A500"/>
<path transform="translate(1105.4,2314.3)" d="M-4.8-8H4.8V-4.8H8V4.8H4.8V8H-4.8V4.8H-8V-4.8H-4.8Z" fill="#A3A500"/>
<path transform="translate(1105.4,2425.5)" d="M-4.8-8H4.8V-4.8H8V4.8H4.8V8H-4.8V4.8H-8V-4.8H-4.8Z" fill="#A3A500"/>
<path transform="translate(1105.4,2569.5)" d="M-4.8-8H4.8V-4.8H8V4.8H4.8V8H-4.8V4.8H-8V-4.8H-4.8Z" fill="#8AAB00"/>
<path transform="translate(1105.4,2577)" d="M-4.8-8H4.8V-4.8H8V4.8H4.8V8H-4.8V4.8H-8V-4.8H-4.8Z" fill="#8AAB00"/>
<path transform="translate(1105.4,2719.5)" d="M-4.8-8H4.8V-4.8H8V4.8H4.8V8H-4.8V4.8H-8V-4.8H-4.8Z" fill="#A3A500"/>
<path transform="translate(1105.4,2734.6)" d="M-4.8-8H4.8V-4.8H8V4.8H4.8V8H-4.8V4.8H-8V-4.8H-4.8Z" fill="#8AAB00"/>
<path transform="translate(1105.4,2826.3)" d="M-4.8-8H4.8V-4.8H8V4.8H4.8V8H-4.8V4.8H-8V-4.8H-4.8Z" fill="#8AAB00"/>
<path transform="translate(1105.4,2878.8)" d="M-4.8-8H4.8V-4.8H8V4.8H4.8V8H-4.8V4.8H-8V-4.8H-4.8Z" fill="#A3A500"/>
<path transform="translate(1105.4,3043)" d="M-4.8-8H4.8V-4.8H8V4.8H4.8V8H-4.8V4.8H-8V-4.8H-4.8Z" fill="#8AAB00"/>
<path transform="translate(1105.4,3131.4)" d="M-4.8-8H4.8V-4.8H8V4.8H4.8V8H-4.8V4.8H-8V-4.8H-4.8Z" fill="#A3A500"/>
<path transform="translate(1309.4,2740.7)" d="M-4.8-8H4.8V-4.8H8V4.8H4.8V8H-4.8V4.8H-8V-4.8H-4.8Z" fill="#74B000"/>
<path transform="translate(1309.4,2901.3)" d="M-4.8-8H4.8V-4.8H8V4.8H4.8V8H-4.8V4.8H-8V-4.8H-4.8Z" fill="#74B000"/>
<path transform="translate(1309.4,2977)" d="M-4.8-8H4.8V-4.8H8V4.8H4.8V8H-4.8V4.8H-8V-4.8H-4.8Z" fill="#74B000"/>
<path transform="translate(1516.5,2734.6)" d="M-4.8-8H4.8V-4.8H8V4.8H4.8V8H-4.8V4.8H-8V-4.8H-4.8Z" fill="#F27A5C"/>
<path transform="translate(1720.4,2389.2)" d="M-4.8-8H4.8V-4.8H8V4.8H4.8V8H-4.8V4.8H-8V-4.8H-4.8Z" fill="#D89000"/>
<path transform="translate(1720.4,2799.8)" d="M-4.8-8H4.8V-4.8H8V4.8H4.8V8H-4.8V4.8H-8V-4.8H-4.8Z" fill="#D89000"/>
<path transform="translate(1720.4,2848.8)" d="M-4.8-8H4.8V-4.8H8V4.8H4.8V8H-4.8V4.8H-8V-4.8H-4.8Z" fill="#C09B00"/>
<path transform="translate(1720.4,2863.3)" d="M-4.8-8H4.8V-4.8H8V4.8H4.8V8H-4.8V4.8H-8V-4.8H-4.8Z" fill="#EA8331"/>
<path transform="translate(1720.4,2871)" d="M-4.8-8H4.8V-4.8H8V4.8H4.8V8H-4.8V4.8H-8V-4.8H-4.8Z" fill="#EA8331"/>
<path transform="translate(1720.4,2878.8)" d="M-4.8-8H4.8V-4.8H8V4.8H4.8V8H-4.8V4.8H-8V-4.8H-4.8Z" fill="#D89000"/>
<path transform="translate(1720.4,2895.1)" d="M-4.8-8H4.8V-4.8H8V4.8H4.8V8H-4.8V4.8H-8V-4.8H-4.8Z" fill="#C09B00"/>
<path transform="translate(1720.4,2917.4)" d="M-4.8-8H4.8V-4.8H8V4.8H4.8V8H-4.8V4.8H-8V-4.8H-4.8Z" fill="#D89000"/>
<path transform="translate(1720.4,2942.1)" d="M-4.8-8H4.8V-4.8H8V4.8H4.8V8H-4.8V4.8H-8V-4.8H-4.8Z" fill="#D89000"/>
<path transform="translate(1720.4,2931.3)" d="M-4.8-8H4.8V-4.8H8V4.8H4.8V8H-4.8V4.8H-8V-4.8H-4.8Z" fill="#C09B00"/>
<path transform="translate(1720.4,2970.5)" d="M-4.8-8H4.8V-4.8H8V4.8H4.8V8H-4.8V4.8H-8V-4.8H-4.8Z" fill="#EA8331"/>
<path transform="translate(1720.4,2993)" d="M-4.8-8H4.8V-4.8H8V4.8H4.8V8H-4.8V4.8H-8V-4.8H-4.8Z" fill="#D89000"/>
<path transform="translate(1720.4,3008.5)" d="M-4.8-8H4.8V-4.8H8V4.8H4.8V8H-4.8V4.8H-8V-4.8H-4.8Z" fill="#C09B00"/>
<path transform="translate(1720.4,3027)" d="M-4.8-8H4.8V-4.8H8V4.8H4.8V8H-4.8V4.8H-8V-4.8H-4.8Z" fill="#EA8331"/>
<path transform="translate(1720.4,3045.5)" d="M-4.8-8H4.8V-4.8H8V4.8H4.8V8H-4.8V4.8H-8V-4.8H-4.8Z" fill="#D89000"/>
<path transform="translate(1720.4,3051.7)" d="M-4.8-8H4.8V-4.8H8V4.8H4.8V8H-4.8V4.8H-8V-4.8H-4.8Z" fill="#EA8331"/>
<path transform="translate(1720.4,3059.4)" d="M-4.8-8H4.8V-4.8H8V4.8H4.8V8H-4.8V4.8H-8V-4.8H-4.8Z" fill="#C09B00"/>
<path transform="translate(1720.4,3101.1)" d="M-4.8-8H4.8V-4.8H8V4.8H4.8V8H-4.8V4.8H-8V-4.8H-4.8Z" fill="#C09B00"/>
<path transform="translate(1720.4,3118.1)" d="M-4.8-8H4.8V-4.8H8V4.8H4.8V8H-4.8V4.8H-8V-4.8H-4.8Z" fill="#D89000"/>
<path transform="translate(1720.4,3136.6)" d="M-4.8-8H4.8V-4.8H8V4.8H4.8V8H-4.8V4.8H-8V-4.8H-4.8Z" fill="#D89000"/>
<path transform="translate(1720.4,3147.4)" d="M-4.8-8H4.8V-4.8H8V4.8H4.8V8H-4.8V4.8H-8V-4.8H-4.8Z" fill="#D89000"/>
<path transform="translate(1720.4,3200.6)" d="M-4.8-8H4.8V-4.8H8V4.8H4.8V8H-4.8V4.8H-8V-4.8H-4.8Z" fill="#D89000"/>
<path transform="translate(1927.5,2304.3)" d="M-4.8-8H4.8V-4.8H8V4.8H4.8V8H-4.8V4.8H-8V-4.8H-4.8Z" fill="#FA62DB"/>
<path transform="translate(1927.5,2556.8)" d="M-4.8-8H4.8V-4.8H8V4.8H4.8V8H-4.8V4.8H-8V-4.8H-4.8Z" fill="#FA62DB"/>
<path transform="translate(1927.5,2655.2)" d="M-4.8-8H4.8V-4.8H8V4.8H4.8V8H-4.8V4.8H-8V-4.8H-4.8Z" fill="#C77CFF"/>
<path transform="translate(1927.5,2678.6)" d="M-4.8-8H4.8V-4.8H8V4.8H4.8V8H-4.8V4.8H-8V-4.8H-4.8Z" fill="#E76BF3"/>
<path transform="translate(1927.5,2701.3)" d="M-4.8-8H4.8V-4.8H8V4.8H4.8V8H-4.8V4.8H-8V-4.8H-4.8Z" fill="#E76BF3"/>
<path transform="translate(1927.5,2719.5)" d="M-4.8-8H4.8V-4.8H8V4.8H4.8V8H-4.8V4.8H-8V-4.8H-4.8Z" fill="#FF62BC"/>
<path transform="translate(1927.5,2730.1)" d="M-4.8-8H4.8V-4.8H8V4.8H4.8V8H-4.8V4.8H-8V-4.8H-4.8Z" fill="#FF62BC"/>
<path transform="translate(1927.5,2740.7)" d="M-4.8-8H4.8V-4.8H8V4.8H4.8V8H-4.8V4.8H-8V-4.8H-4.8Z" fill="#FA62DB"/>
<path transform="translate(1927.5,2760.4)" d="M-4.8-8H4.8V-4.8H8V4.8H4.8V8H-4.8V4.8H-8V-4.8H-4.8Z" fill="#E76BF3"/>
<path transform="translate(1927.5,2777)" d="M-4.8-8H4.8V-4.8H8V4.8H4.8V8H-4.8V4.8H-8V-4.8H-4.8Z" fill="#FF62BC"/>
<path transform="translate(1927.5,2789.2)" d="M-4.8-8H4.8V-4.8H8V4.8H4.8V8H-4.8V4.8H-8V-4.8H-4.8Z" fill="#FF62BC"/>
<path transform="translate(1927.5,2821)" d="M-4.8-8H4.8V-4.8H8V4.8H4.8V8H-4.8V4.8H-8V-4.8H-4.8Z" fill="#E76BF3"/>
<path transform="translate(1927.5,2858.7)" d="M-4.8-8H4.8V-4.8H8V4.8H4.8V8H-4.8V4.8H-8V-4.8H-4.8Z" fill="#E76BF3"/>
<path transform="translate(1927.5,2903.5)" d="M-4.8-8H4.8V-4.8H8V4.8H4.8V8H-4.8V4.8H-8V-4.8H-4.8Z" fill="#E76BF3"/>
<path transform="translate(1927.5,2950.7)" d="M-4.8-8H4.8V-4.8H8V4.8H4.8V8H-4.8V4.8H-8V-4.8H-4.8Z" fill="#FF62BC"/>
<path transform="translate(1927.5,2972.9)" d="M-4.8-8H4.8V-4.8H8V4.8H4.8V8H-4.8V4.8H-8V-4.8H-4.8Z" fill="#C77CFF"/>
<path transform="translate(1927.5,2963.7)" d="M-4.8-8H4.8V-4.8H8V4.8H4.8V8H-4.8V4.8H-8V-4.8H-4.8Z" fill="#FA62DB"/>
<path transform="translate(1927.5,2989)" d="M-4.8-8H4.8V-4.8H8V4.8H4.8V8H-4.8V4.8H-8V-4.8H-4.8Z" fill="#C77CFF"/>
<path transform="translate(1927.5,3003.8)" d="M-4.8-8H4.8V-4.8H8V4.8H4.8V8H-4.8V4.8H-8V-4.8H-4.8Z" fill="#FF62BC"/>
<path transform="translate(1927.5,3013.1)" d="M-4.8-8H4.8V-4.8H8V4.8H4.8V8H-4.8V4.8H-8V-4.8H-4.8Z" fill="#FF62BC"/>
<path transform="translate(1927.5,3050.2)" d="M-4.8-8H4.8V-4.8H8V4.8H4.8V8H-4.8V4.8H-8V-4.8H-4.8Z" fill="#E76BF3"/>
<path transform="translate(1927.5,3042.4)" d="M-4.8-8H4.8V-4.8H8V4.8H4.8V8H-4.8V4.8H-8V-4.8H-4.8Z" fill="#FF62BC"/>
<path transform="translate(1927.5,3075.5)" d="M-4.8-8H4.8V-4.8H8V4.8H4.8V8H-4.8V4.8H-8V-4.8H-4.8Z" fill="#C77CFF"/>
<path transform="translate(2131.4,3017.7)" d="M-4.8-8H4.8V-4.8H8V4.8H4.8V8H-4.8V4.8H-8V-4.8H-4.8Z" fill="#FE6E8A"/>
<path transform="translate(2131.4,3010)" d="M-4.8-8H4.8V-4.8H8V4.8H4.8V8H-4.8V4.8H-8V-4.8H-4.8Z" fill="#FF64B0"/>
<path transform="translate(2131.4,3039.3)" d="M-4.8-8H4.8V-4.8H8V4.8H4.8V8H-4.8V4.8H-8V-4.8H-4.8Z" fill="#FE6E8A"/>
<path transform="translate(2131.4,3062.5)" d="M-4.8-8H4.8V-4.8H8V4.8H4.8V8H-4.8V4.8H-8V-4.8H-4.8Z" fill="#FC717F"/>
<path transform="translate(2131.4,3105.1)" d="M-4.8-8H4.8V-4.8H8V4.8H4.8V8H-4.8V4.8H-8V-4.8H-4.8Z" fill="#FE6E8A"/>
<path transform="translate(2131.4,3131.4)" d="M-4.8-8H4.8V-4.8H8V4.8H4.8V8H-4.8V4.8H-8V-4.8H-4.8Z" fill="#FE6E8A"/>
<path transform="translate(2131.4,3262.6)" d="M-4.8-8H4.8V-4.8H8V4.8H4.8V8H-4.8V4.8H-8V-4.8H-4.8Z" fill="#FF64B0"/>
<path transform="translate(2131.4,3305.6)" d="M-4.8-8H4.8V-4.8H8V4.8H4.8V8H-4.8V4.8H-8V-4.8H-4.8Z" fill="#FF64B0"/>
<path transform="translate(2131.4,3410.6)" d="M-4.8-8H4.8V-4.8H8V4.8H4.8V8H-4.8V4.8H-8V-4.8H-4.8Z" fill="#FF64B0"/>
<path transform="translate(2131.4,3486.2)" d="M-4.8-8H4.8V-4.8H8V4.8H4.8V8H-4.8V4.8H-8V-4.8H-4.8Z" fill="#FE6E8A"/>
</g>
<g shape-rendering="crispEdges">
<rect x="159.5" y="2071.2" width="2095" height="1483.0" fill="none" stroke="#B3B3B3" stroke-width="3"/>
<line x1="145" x2="158" y1="3220.5" y2="3220.5" stroke="#B3B3B3" stroke-width="3"/>
<line x1="145" x2="158" y1="2836.5" y2="2836.5" stroke="#B3B3B3" stroke-width="3"/>
<line x1="145" x2="158" y1="2452.5" y2="2452.5" stroke="#B3B3B3" stroke-width="3"/>
<line x1="282.6" x2="282.6" y1="3555.7" y2="3566.7" stroke="#B3B3B3" stroke-width="3"/>
<line x1="490.4" x2="490.4" y1="3555.7" y2="3566.7" stroke="#B3B3B3" stroke-width="3"/>
<line x1="694.3" x2="694.3" y1="3555.7" y2="3566.7" stroke="#B3B3B3" stroke-width="3"/>
<line x1="898.3" x2="898.3" y1="3555.7" y2="3566.7" stroke="#B3B3B3" stroke-width="3"/>
<line x1="1105.4" x2="1105.4" y1="3555.7" y2="3566.7" stroke="#B3B3B3" stroke-width="3"/>
<line x1="1309.4" x2="1309.4" y1="3555.7" y2="3566.7" stroke="#B3B3B3" stroke-width="3"/>
<line x1="1516.5" x2="1516.5" y1="3555.7" y2="3566.7" stroke="#B3B3B3" stroke-width="3"/>
<line x1="1720.4" x2="1720.4" y1="3555.7" y2="3566.7" stroke="#B3B3B3" stroke-width="3"/>
<line x1="1927.5" x2="1927.5" y1="3555.7" y2="3566.7" stroke="#B3B3B3" stroke-width="3"/>
<line x1="2131.4" x2="2131.4" y1="3555.7" y2="3566.7" stroke="#B3B3B3" stroke-width="3"/>
</g>
<g class="t" font-size="39.5" fill="#4D4D4D">
<text x="136" y="3237.8" text-anchor="end" font-size="41">1</text>
<text x="136" y="2853.8" text-anchor="end" font-size="41">2</text>
<text x="136" y="2469.8" text-anchor="end" font-size="41">3</text>
<text x="281.1" y="3610.7" text-anchor="middle">AA</text>
<text x="488.9" y="3610.7" text-anchor="middle">NEFA</text>
<text x="692.8" y="3610.7" text-anchor="middle">PC.aa</text>
<text x="896.8" y="3610.7" text-anchor="middle">PC.ae</text>
<text x="1103.9" y="3610.7" text-anchor="middle">lyso.PC.a</text>
<text x="1307.9" y="3610.7" text-anchor="middle">lyso.PC.e</text>
<text x="1515.0" y="3610.7" text-anchor="middle">Free carn</text>
<text x="1718.9" y="3610.7" text-anchor="middle">Carn.a</text>
<text x="1926.0" y="3610.7" text-anchor="middle">SM</text>
<text x="2129.9" y="3610.7" text-anchor="middle">Ratio</text>
</g>
<g class="t" font-size="49" fill="#000">
<text x="1143.6" y="3666.2" font-size="49" fill="#000" textLength="129.7" lengthAdjust="spacingAndGlyphs">Group</text>
<g transform="translate(96.9,0) rotate(-90)">
<text x="-3304.1" y="0.0" font-size="49" fill="#000" textLength="980.3" lengthAdjust="spacingAndGlyphs">Difference in diastolic blood pressure (mmHg)</text>
</g>
</g>
<g class="t" fill="#000">
<text x="489.8" y="1973.8" font-size="59.5" fill="#000" textLength="1422.9" lengthAdjust="spacingAndGlyphs">(C) Difference in diastolic blood pressure third trimester</text>
<text x="412.6" y="2036.5" font-size="59.5" fill="#000" textLength="1602.0" lengthAdjust="spacingAndGlyphs">per SDS increase in early-pregnancy metabolite concentration</text>
</g>
</svg></body></html>
